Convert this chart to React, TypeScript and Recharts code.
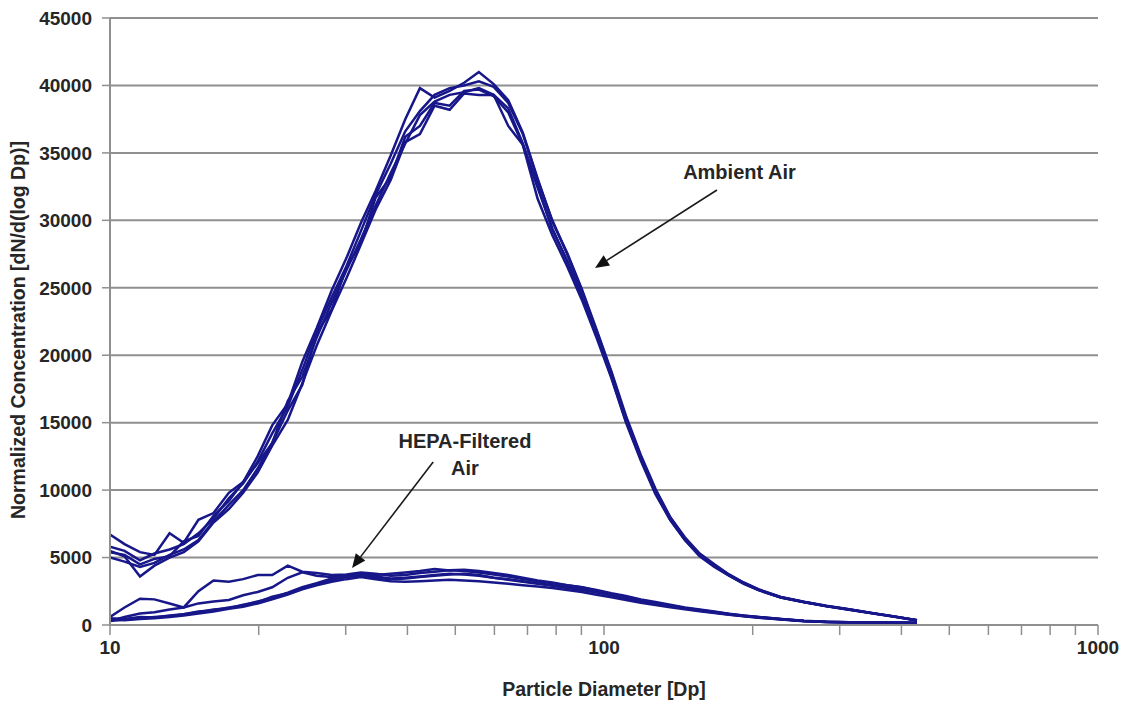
import React from "react";
import { LineChart, Line, XAxis, YAxis, CartesianGrid, ReferenceLine, ReferenceDot } from "recharts";

const diameters = [10.0, 10.7, 11.5, 12.3, 13.2, 14.1, 15.1, 16.2, 17.4, 18.6, 19.9, 21.3, 22.9, 24.5, 26.2, 28.1, 30.1, 32.2, 34.5, 37.0, 39.6, 42.4, 45.4, 48.7, 52.1, 55.8, 59.8, 64.0, 68.5, 73.4, 78.6, 84.2, 90.2, 96.6, 103.5, 110.8, 118.7, 127.1, 136.1, 145.8, 156.2, 167.3, 179.1, 191.8, 205.4, 228, 254, 282, 313, 348, 387, 430];

const ambient1 = [5000, 4700, 4300, 4600, 5200, 5600, 6300, 7700, 8900, 10000, 11600, 13500, 15900, 17800, 21600, 23400, 26500, 28300, 31700, 33200, 36200, 37000, 38700, 38500, 39600, 39700, 39200, 38000, 35600, 32400, 29400, 27000, 24400, 21500, 18400, 15100, 12300, 9800, 7800, 6300, 5100, 4300, 3650, 3050, 2580, 2030, 1680, 1380, 1130, 870, 610, 340];
const ambient2 = [6700, 6000, 5400, 5200, 6800, 6100, 7800, 8300, 9800, 10600, 12500, 14800, 16400, 19500, 22000, 24800, 27200, 29800, 32200, 34800, 37500, 39800, 39100, 39600, 40200, 41000, 40100, 38900, 36500, 33100, 29900, 27600, 24900, 21900, 18800, 15500, 12600, 10100, 8000, 6500, 5300, 4500, 3750, 3150, 2650, 2080, 1720, 1420, 1170, 900, 640, 360];
const ambient3 = [5500, 5100, 3600, 4400, 5000, 5400, 6200, 7600, 8600, 9800, 11300, 13300, 15200, 17900, 20700, 23300, 25700, 28200, 30800, 33000, 35800, 36400, 38500, 38200, 39400, 39300, 39300, 37000, 35600, 31600, 28900, 26600, 24100, 21300, 18300, 15000, 12200, 9700, 7800, 6300, 5150, 4350, 3680, 3080, 2600, 2040, 1700, 1400, 1150, 880, 620, 350];
const ambient4 = [5800, 5500, 4800, 5300, 5600, 6000, 6800, 7900, 9400, 10500, 12100, 14200, 16200, 18900, 21800, 24300, 26600, 29200, 31900, 34200, 36600, 38100, 39300, 39800, 40000, 40300, 39900, 38700, 36400, 33000, 30000, 27500, 24800, 21800, 18700, 15300, 12500, 10000, 8000, 6400, 5250, 4420, 3720, 3120, 2620, 2060, 1710, 1410, 1160, 890, 630, 350];
const ambient5 = [5400, 5200, 4500, 4900, 5100, 6200, 6600, 8100, 9200, 10600, 12000, 13500, 16600, 18400, 21300, 23900, 26300, 28600, 31100, 33500, 35700, 37800, 38800, 39300, 39500, 39800, 39300, 38300, 35700, 32600, 29300, 27000, 24500, 21600, 18500, 15200, 12400, 9900, 7900, 6400, 5200, 4400, 3700, 3100, 2600, 2050, 1700, 1400, 1150, 880, 620, 350];

const hepa1 = [600, 1300, 1950, 1900, 1600, 1300, 2500, 3300, 3200, 3400, 3700, 3700, 4400, 3950, 3850, 3700, 3750, 3900, 3800, 3650, 3700, 3850, 3950, 4050, 4000, 3900, 3750, 3600, 3400, 3250, 3100, 2950, 2800, 2600, 2350, 2150, 1900, 1700, 1500, 1300, 1150, 1000, 840, 710, 600, 450, 320, 240, 210, 200, 190, 160];
const hepa2 = [300, 600, 850, 950, 1150, 1300, 1600, 1750, 1850, 2200, 2450, 2800, 3500, 3900, 3650, 3550, 3650, 3750, 3600, 3450, 3500, 3600, 3700, 3800, 3750, 3650, 3500, 3400, 3250, 3100, 2950, 2800, 2650, 2450, 2200, 2000, 1780, 1580, 1400, 1230, 1080, 930, 790, 670, 570, 420, 290, 225, 200, 185, 175, 150];
const hepa3 = [500, 450, 600, 550, 700, 800, 1000, 1100, 1300, 1450, 1750, 2000, 2400, 2800, 3100, 3450, 3650, 3800, 3700, 3800, 3900, 4000, 4150, 4050, 4100, 4000, 3850, 3700, 3500, 3300, 3150, 2950, 2800, 2550, 2300, 2100, 1850, 1650, 1450, 1270, 1120, 960, 820, 690, 590, 440, 300, 235, 205, 195, 185, 150];
const hepa4 = [300, 400, 500, 600, 650, 800, 950, 1150, 1250, 1500, 1700, 2100, 2350, 2750, 3050, 3300, 3550, 3650, 3500, 3400, 3450, 3550, 3650, 3750, 3800, 3700, 3500, 3350, 3200, 3050, 2900, 2750, 2600, 2400, 2200, 2000, 1750, 1550, 1380, 1220, 1070, 930, 780, 660, 560, 420, 290, 225, 195, 185, 175, 150];
const hepa5 = [400, 350, 450, 500, 600, 700, 850, 1000, 1200, 1350, 1600, 1900, 2250, 2650, 2950, 3200, 3400, 3550, 3400, 3250, 3200, 3250, 3300, 3350, 3300, 3250, 3150, 3050, 2950, 2850, 2750, 2600, 2450, 2250, 2050, 1850, 1650, 1480, 1320, 1170, 1020, 880, 750, 640, 540, 400, 280, 215, 190, 180, 170, 145];

const xTicks = [10, 20, 30, 40, 50, 60, 70, 80, 90, 100, 200, 300, 400, 500, 600, 700, 800, 900, 1000];
const xLabelTicks = [10, 100, 1000];
const yTicks = [0, 5000, 10000, 15000, 20000, 25000, 30000, 35000, 40000, 45000];

const ambientLabel = { text: "Ambient Air", x: 188, y: 33067 };
const ambientArrow = [{ x: 169.3, y: 32250 }, { x: 95.9, y: 26470 }];
const hepaLabelLines = [
  { text: "HEPA-Filtered", x: 52.3, y: 13120 },
  { text: "Air", x: 52.3, y: 11120 },
];
const hepaArrow = [{ x: 45.1, y: 12085 }, { x: 30.9, y: 4226 }];

const seriesKeys = ["a1", "a2", "a3", "a4", "a5", "h1", "h2", "h3", "h4", "h5"];
const seriesArrays = [ambient1, ambient2, ambient3, ambient4, ambient5, hepa1, hepa2, hepa3, hepa4, hepa5];

const rows = diameters.map((d, i) => {
  const r: Record<string, number> = { d };
  seriesKeys.forEach((k, j) => {
    r[k] = seriesArrays[j][i];
  });
  return r;
});

const FONT = "'Liberation Sans', Arial, Helvetica, sans-serif";
const TEXT = "#262626";
const GRID = "#8f8f8f";
const LINE = "#17178a";

const Arrow = (props: any) => {
  const { x1, y1, x2, y2 } = props;
  const ang = Math.atan2(y2 - y1, x2 - x1);
  const len = 14;
  const w = 6;
  const bx = x2 - len * Math.cos(ang);
  const by = y2 - len * Math.sin(ang);
  const px = -Math.sin(ang) * w;
  const py = Math.cos(ang) * w;
  return (
    <g>
      <line x1={x1} y1={y1} x2={bx} y2={by} stroke="#1a1a1a" strokeWidth={1.6} />
      <polygon points={`${x2},${y2} ${bx + px},${by + py} ${bx - px},${by - py}`} fill="#111" />
    </g>
  );
};

const makeText = (text: string) => (props: any) => (
  <text
    x={props.cx}
    y={props.cy}
    textAnchor="middle"
    fontFamily={FONT}
    fontWeight="bold"
    fontSize={20}
    fill={TEXT}
  >
    {text}
  </text>
);

export default function App() {
  return (
    <div style={{ position: "absolute", left: 0, top: 0, background: "#fff" }}>
      <LineChart
        width={1129}
        height={702}
        data={rows}
        margin={{ top: 18, right: 31, bottom: 0, left: 0 }}
      >
        <CartesianGrid vertical={false} stroke={GRID} strokeWidth={2} />
        <XAxis
          dataKey="d"
          type="number"
          scale="log"
          domain={[10, 1000]}
          ticks={xTicks}
          interval={0}
          allowDataOverflow
          height={77}
          tickSize={10}
          tickMargin={6}
          axisLine={{ stroke: GRID, strokeWidth: 2 }}
          tickLine={{ stroke: GRID, strokeWidth: 1.5 }}
          tick={{ fontFamily: FONT, fontWeight: "bold", fontSize: 19, fill: TEXT }}
          tickFormatter={(v: number) => (xLabelTicks.includes(v) ? String(v) : "")}
          label={{
            content: () => (
              <text x={604} y={696} textAnchor="middle" fontFamily={FONT} fontWeight="bold" fontSize={19.5} fill={TEXT}>
                Particle Diameter [Dp]
              </text>
            ),
          }}
        />
        <YAxis
          type="number"
          domain={[0, 45000]}
          ticks={yTicks}
          interval={0}
          width={110}
          tickSize={8}
          tickMargin={10}
          axisLine={{ stroke: GRID, strokeWidth: 2 }}
          tickLine={{ stroke: GRID, strokeWidth: 1.5 }}
          tick={{ fontFamily: FONT, fontWeight: "bold", fontSize: 19, fill: TEXT }}
          label={{
            content: () => (
              <text
                x={25}
                y={330}
                transform="rotate(-90 25 330)"
                textAnchor="middle"
                fontFamily={FONT}
                fontWeight="bold"
                fontSize={19.5}
                fill={TEXT}
              >
                Normalized Concentration [dN/d(log Dp)]
              </text>
            ),
          }}
        />
        {seriesKeys.map((k) => (
          <Line
            key={k}
            dataKey={k}
            type="linear"
            stroke={LINE}
            strokeWidth={2.5}
            dot={false}
            activeDot={false}
            isAnimationActive={false}
          />
        ))}
        <ReferenceLine segment={ambientArrow} shape={Arrow} />
        <ReferenceLine segment={hepaArrow} shape={Arrow} />
        <ReferenceDot x={ambientLabel.x} y={ambientLabel.y} r={0} shape={makeText(ambientLabel.text)} />
        {hepaLabelLines.map((l) => (
          <ReferenceDot key={l.text} x={l.x} y={l.y} r={0} shape={makeText(l.text)} />
        ))}
      </LineChart>
    </div>
  );
}
